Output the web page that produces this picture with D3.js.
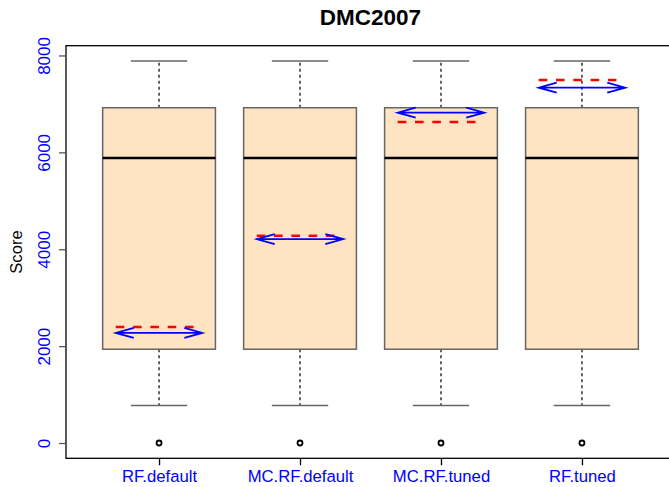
<!DOCTYPE html>
<html>
<head>
<meta charset="utf-8">
<script src="https://cdn.jsdelivr.net/npm/d3@7"></script>
<style>
  body { margin: 0; background: #fff; }
  text { font-family: "Liberation Sans", Arial, Helvetica, sans-serif; }
</style>
</head>
<body>
<svg id="chart" width="669" height="487"></svg>
<script>
// data
var categories = ["RF.default", "MC.RF.default", "MC.RF.tuned", "RF.tuned"];
var whiskerLow = [773, 773, 773, 773];
var q1 = [1936, 1936, 1936, 1936];
var medians = [5882, 5882, 5882, 5882];
var q3 = [6921, 6921, 6921, 6921];
var whiskerHigh = [7886, 7886, 7886, 7886];
var outliers = [0, 0, 0, 0];
var redValues = [2397, 4277, 6626, 7494];   // red dashed lines
var blueValues = [2273, 4209, 6818, 7335];  // blue double arrows
var yTicks = [0, 2000, 4000, 6000, 8000];

var svg = d3.select("#chart");

var plot = { left: 66, right: 675, top: 45.7, bottom: 458.3 };

// R style 4% extension
var yMin = 0, yMax = d3.max(whiskerHigh), ext = (yMax - yMin) * 0.04;
var x = d3.scaleLinear().domain([0.34, 4.66]).range([plot.left, plot.right]);
var y = d3.scaleLinear().domain([yMin - ext, yMax + ext]).range([plot.bottom, plot.top]);

var boxes = categories.map((c, i) => ({
  name: c, pos: i + 1,
  lo: whiskerLow[i], q1: q1[i], med: medians[i], q3: q3[i], hi: whiskerHigh[i],
  out: outliers[i], red: redValues[i], blue: blueValues[i]
}));

var g = svg.append("g");

// whiskers (dashed)
g.selectAll("line.wlow").data(boxes).enter().append("line")
  .attr("x1", d => x(d.pos)).attr("x2", d => x(d.pos))
  .attr("y1", d => y(d.q1)).attr("y2", d => y(d.lo))
  .attr("stroke", "black").attr("stroke-width", 1.2).attr("stroke-dasharray", "3,3");
g.selectAll("line.whigh").data(boxes).enter().append("line")
  .attr("x1", d => x(d.pos)).attr("x2", d => x(d.pos))
  .attr("y1", d => y(d.q3)).attr("y2", d => y(d.hi))
  .attr("stroke", "black").attr("stroke-width", 1.2).attr("stroke-dasharray", "3,3");

// staples
[d => d.lo, d => d.hi].forEach(f => {
  g.selectAll(null).data(boxes).enter().append("line")
    .attr("x1", d => x(d.pos - 0.2)).attr("x2", d => x(d.pos + 0.2))
    .attr("y1", d => y(f(d))).attr("y2", d => y(f(d)))
    .attr("stroke", "#666").attr("stroke-width", 1.5);
});

// boxes
g.selectAll("rect.box").data(boxes).enter().append("rect")
  .attr("x", d => x(d.pos - 0.4))
  .attr("width", d => x(d.pos + 0.4) - x(d.pos - 0.4))
  .attr("y", d => y(d.q3))
  .attr("height", d => y(d.q1) - y(d.q3))
  .attr("fill", "#FFE4C4").attr("stroke", "#666").attr("stroke-width", 1.5);

// medians
g.selectAll("line.med").data(boxes).enter().append("line")
  .attr("x1", d => x(d.pos - 0.4)).attr("x2", d => x(d.pos + 0.4))
  .attr("y1", d => y(d.med)).attr("y2", d => y(d.med))
  .attr("stroke", "black").attr("stroke-width", 2.5);

// outliers
g.selectAll("circle").data(boxes).enter().append("circle")
  .attr("cx", d => x(d.pos)).attr("cy", d => y(d.out)).attr("r", 2.5)
  .attr("fill", "none").attr("stroke", "black").attr("stroke-width", 1.8);

// red dashed lines
var hw = 0.307;
g.selectAll("line.red").data(boxes).enter().append("line")
  .attr("x1", d => x(d.pos - hw)).attr("x2", d => x(d.pos + hw))
  .attr("y1", d => y(d.red)).attr("y2", d => y(d.red))
  .attr("stroke", "red").attr("stroke-width", 2.5).attr("stroke-dasharray", "8.6,8.7");

// blue double arrows
var arr = g.selectAll("g.arrow").data(boxes).enter().append("g")
  .attr("fill", "none").attr("stroke", "blue").attr("stroke-width", 1.8);
arr.append("path").attr("d", d => {
  var x0 = x(d.pos - hw), x1 = x(d.pos + hw), yy = y(d.blue);
  return "M" + x0 + "," + yy + "H" + x1 +
    "M" + (x0 + 18) + "," + (yy - 5) + "L" + x0 + "," + yy + "L" + (x0 + 18) + "," + (yy + 5) +
    "M" + (x1 - 18) + "," + (yy - 5) + "L" + x1 + "," + yy + "L" + (x1 - 18) + "," + (yy + 5);
});

// frame
svg.append("rect")
  .attr("x", plot.left).attr("y", plot.top)
  .attr("width", plot.right - plot.left).attr("height", plot.bottom - plot.top)
  .attr("fill", "none").attr("stroke", "black").attr("stroke-width", 1.3);

// y axis
var yAxis = svg.append("g").attr("transform", "translate(" + plot.left + ",0)")
  .call(d3.axisLeft(y).tickValues(yTicks).tickSize(7).tickFormat(d3.format("d")));
yAxis.select(".domain").remove();
yAxis.selectAll(".tick line").attr("stroke", "#555").attr("stroke-width", 1.3);
yAxis.selectAll(".tick text")
  .attr("fill", "blue").attr("font-size", 17)
  .attr("x", 0).attr("dy", null).attr("text-anchor", "middle")
  .attr("transform", "translate(-16.5,0) rotate(-90)");

// x axis
var xAxis = svg.append("g").attr("transform", "translate(0," + plot.bottom + ")")
  .call(d3.axisBottom(x).tickValues(boxes.map(d => d.pos)).tickSize(7)
    .tickFormat((d, i) => categories[i]));
xAxis.select(".domain").remove();
xAxis.selectAll(".tick line").attr("stroke", "black").attr("stroke-width", 1.3);
xAxis.selectAll(".tick text")
  .attr("fill", "blue").attr("font-size", 16.7)
  .attr("y", 23.5).attr("dy", null);

// labels
svg.append("text")
  .attr("x", (plot.left + plot.right) / 2).attr("y", 25)
  .attr("text-anchor", "middle").attr("font-weight", "bold").attr("font-size", 22.5)
  .text("DMC2007");

svg.append("text")
  .attr("transform", "translate(22," + (plot.top + plot.bottom) / 2 + ") rotate(-90)")
  .attr("text-anchor", "middle").attr("font-size", 16.7)
  .text("Score");
</script>
</body>
</html>
